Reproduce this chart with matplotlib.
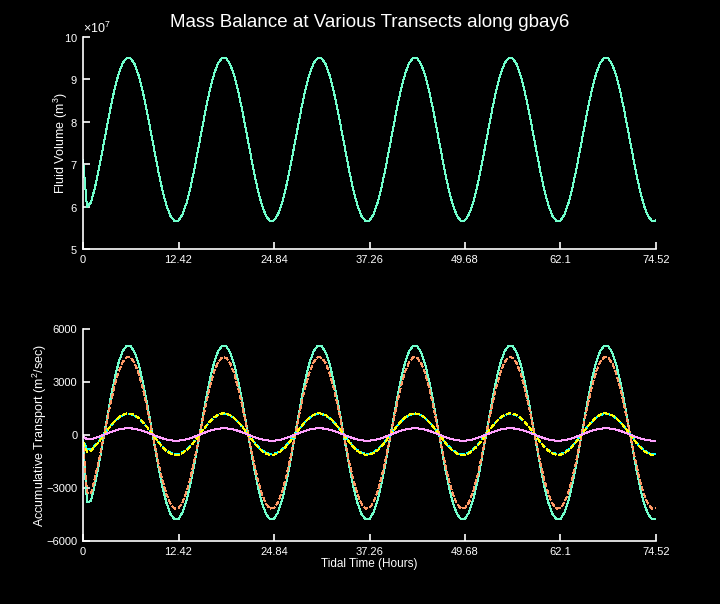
import numpy as np
import matplotlib
matplotlib.use('Agg')
import matplotlib.pyplot as plt
from matplotlib.ticker import ScalarFormatter

plt.rcParams['font.family'] = ['Liberation Sans', 'DejaVu Sans']
plt.rcParams['mathtext.fontset'] = 'custom'
plt.rcParams['mathtext.rm'] = 'Liberation Sans'

# tidal time, 24 samples per tidal cycle of 12.42 h
hours = np.linspace(0, 74.52, 145)
tick_hours = [0, 12.42, 24.84, 37.26, 49.68, 62.1, 74.52]
tick_names = ['0', '12.42', '24.84', '37.26', '49.68', '62.1', '74.52']

# fluid volume, units of 1e7 m^3
volume = [
    7.100, 5.990, 6.100, 6.448, 6.891, 7.383, 7.888, 8.372, 8.803, 9.150, 9.392, 9.509,
    9.496, 9.353, 9.089, 8.722, 8.279, 7.787, 7.282, 6.798, 6.367, 6.020, 5.778, 5.661,
    5.674, 5.817, 6.081, 6.448, 6.891, 7.383, 7.888, 8.372, 8.803, 9.150, 9.392, 9.509,
    9.496, 9.353, 9.089, 8.722, 8.279, 7.787, 7.282, 6.798, 6.367, 6.020, 5.778, 5.661,
    5.674, 5.817, 6.081, 6.448, 6.891, 7.383, 7.888, 8.372, 8.803, 9.150, 9.392, 9.509,
    9.496, 9.353, 9.089, 8.722, 8.279, 7.787, 7.282, 6.798, 6.367, 6.020, 5.778, 5.661,
    5.674, 5.817, 6.081, 6.448, 6.891, 7.383, 7.888, 8.372, 8.803, 9.150, 9.392, 9.509,
    9.496, 9.353, 9.089, 8.722, 8.279, 7.787, 7.282, 6.798, 6.367, 6.020, 5.778, 5.661,
    5.674, 5.817, 6.081, 6.448, 6.891, 7.383, 7.888, 8.372, 8.803, 9.150, 9.392, 9.509,
    9.496, 9.353, 9.089, 8.722, 8.279, 7.787, 7.282, 6.798, 6.367, 6.020, 5.778, 5.661,
    5.674, 5.817, 6.081, 6.448, 6.891, 7.383, 7.888, 8.372, 8.803, 9.150, 9.392, 9.509,
    9.496, 9.353, 9.089, 8.722, 8.279, 7.787, 7.282, 6.798, 6.367, 6.020, 5.778, 5.661,
    5.674,
]

# accumulative transport at the transects (m^2/sec)
tr_green = [
    -450, -3800, -3750, -2769, -1633, -376, 915, 2154, 3256, 4146, 4762, 5064,
    5030, 4663, 3988, 3051, 1915, 658, -633, -1872, -2974, -3864, -4480, -4782,
    -4748, -4381, -3706, -2769, -1633, -376, 915, 2154, 3256, 4146, 4762, 5064,
    5030, 4663, 3988, 3051, 1915, 658, -633, -1872, -2974, -3864, -4480, -4782,
    -4748, -4381, -3706, -2769, -1633, -376, 915, 2154, 3256, 4146, 4762, 5064,
    5030, 4663, 3988, 3051, 1915, 658, -633, -1872, -2974, -3864, -4480, -4782,
    -4748, -4381, -3706, -2769, -1633, -376, 915, 2154, 3256, 4146, 4762, 5064,
    5030, 4663, 3988, 3051, 1915, 658, -633, -1872, -2974, -3864, -4480, -4782,
    -4748, -4381, -3706, -2769, -1633, -376, 915, 2154, 3256, 4146, 4762, 5064,
    5030, 4663, 3988, 3051, 1915, 658, -633, -1872, -2974, -3864, -4480, -4782,
    -4748, -4381, -3706, -2769, -1633, -376, 915, 2154, 3256, 4146, 4762, 5064,
    5030, 4663, 3988, 3051, 1915, 658, -633, -1872, -2974, -3864, -4480, -4782,
    -4748,
]
tr_salmon = [
    -300, -3250, -3300, -2413, -1425, -330, 794, 1873, 2832, 3607, 4144, 4406,
    4377, 4057, 3469, 2653, 1665, 570, -554, -1633, -2592, -3367, -3904, -4166,
    -4137, -3817, -3229, -2413, -1425, -330, 794, 1873, 2832, 3607, 4144, 4406,
    4377, 4057, 3469, 2653, 1665, 570, -554, -1633, -2592, -3367, -3904, -4166,
    -4137, -3817, -3229, -2413, -1425, -330, 794, 1873, 2832, 3607, 4144, 4406,
    4377, 4057, 3469, 2653, 1665, 570, -554, -1633, -2592, -3367, -3904, -4166,
    -4137, -3817, -3229, -2413, -1425, -330, 794, 1873, 2832, 3607, 4144, 4406,
    4377, 4057, 3469, 2653, 1665, 570, -554, -1633, -2592, -3367, -3904, -4166,
    -4137, -3817, -3229, -2413, -1425, -330, 794, 1873, 2832, 3607, 4144, 4406,
    4377, 4057, 3469, 2653, 1665, 570, -554, -1633, -2592, -3367, -3904, -4166,
    -4137, -3817, -3229, -2413, -1425, -330, 794, 1873, 2832, 3607, 4144, 4406,
    4377, 4057, 3469, 2653, 1665, 570, -554, -1633, -2592, -3367, -3904, -4166,
    -4137,
]
tr_cyan = [
    -300, -820, -800, -610, -349, -59, 238, 524, 777, 982, 1124, 1194,
    1186, 1101, 946, 730, 469, 179, -118, -404, -657, -862, -1004, -1074,
    -1066, -981, -826, -610, -349, -59, 238, 524, 777, 982, 1124, 1194,
    1186, 1101, 946, 730, 469, 179, -118, -404, -657, -862, -1004, -1074,
    -1066, -981, -826, -610, -349, -59, 238, 524, 777, 982, 1124, 1194,
    1186, 1101, 946, 730, 469, 179, -118, -404, -657, -862, -1004, -1074,
    -1066, -981, -826, -610, -349, -59, 238, 524, 777, 982, 1124, 1194,
    1186, 1101, 946, 730, 469, 179, -118, -404, -657, -862, -1004, -1074,
    -1066, -981, -826, -610, -349, -59, 238, 524, 777, 982, 1124, 1194,
    1186, 1101, 946, 730, 469, 179, -118, -404, -657, -862, -1004, -1074,
    -1066, -981, -826, -610, -349, -59, 238, 524, 777, 982, 1124, 1194,
    1186, 1101, 946, 730, 469, 179, -118, -404, -657, -862, -1004, -1074,
    -1066,
]
tr_yellow = [
    -380, -950, -900, -644, -374, -74, 233, 528, 791, 1003, 1150, 1222,
    1214, 1126, 965, 742, 472, 172, -135, -430, -693, -905, -1052, -1124,
    -1116, -1028, -867, -644, -374, -74, 233, 528, 791, 1003, 1150, 1222,
    1214, 1126, 965, 742, 472, 172, -135, -430, -693, -905, -1052, -1124,
    -1116, -1028, -867, -644, -374, -74, 233, 528, 791, 1003, 1150, 1222,
    1214, 1126, 965, 742, 472, 172, -135, -430, -693, -905, -1052, -1124,
    -1116, -1028, -867, -644, -374, -74, 233, 528, 791, 1003, 1150, 1222,
    1214, 1126, 965, 742, 472, 172, -135, -430, -693, -905, -1052, -1124,
    -1116, -1028, -867, -644, -374, -74, 233, 528, 791, 1003, 1150, 1222,
    1214, 1126, 965, 742, 472, 172, -135, -430, -693, -905, -1052, -1124,
    -1116, -1028, -867, -644, -374, -74, 233, 528, 791, 1003, 1150, 1222,
    1214, 1126, 965, 742, 472, 172, -135, -430, -693, -905, -1052, -1124,
    -1116,
]
tr_pink = [
    -100, -230, -230, -177, -97, -8, 84, 172, 250, 313, 357, 378,
    376, 350, 302, 235, 155, 66, -26, -114, -192, -255, -299, -320,
    -318, -292, -244, -177, -97, -8, 84, 172, 250, 313, 357, 378,
    376, 350, 302, 235, 155, 66, -26, -114, -192, -255, -299, -320,
    -318, -292, -244, -177, -97, -8, 84, 172, 250, 313, 357, 378,
    376, 350, 302, 235, 155, 66, -26, -114, -192, -255, -299, -320,
    -318, -292, -244, -177, -97, -8, 84, 172, 250, 313, 357, 378,
    376, 350, 302, 235, 155, 66, -26, -114, -192, -255, -299, -320,
    -318, -292, -244, -177, -97, -8, 84, 172, 250, 313, 357, 378,
    376, 350, 302, 235, 155, 66, -26, -114, -192, -255, -299, -320,
    -318, -292, -244, -177, -97, -8, 84, 172, 250, 313, 357, 378,
    376, 350, 302, 235, 155, 66, -26, -114, -192, -255, -299, -320,
    -318,
]

fig = plt.figure(figsize=(7.2, 6.04), dpi=100, facecolor='black')
ax1 = fig.add_axes([0.1153, 0.5877, 0.7958, 0.351])
ax2 = fig.add_axes([0.1153, 0.1043, 0.7958, 0.351])

LW = 0.72  # one pixel at 100 dpi
DASH = (0, (5, 2.5))


def style(ax):
    ax.set_facecolor('black')
    for s in ['top', 'right']:
        ax.spines[s].set_visible(False)
    for s in ['left', 'bottom']:
        ax.spines[s].set_color('white')
        ax.spines[s].set_linewidth(1.2)
    ax.tick_params(colors='white', direction='in', length=5, width=1.2, labelsize=8, pad=4)
    ax.set_xlim(0, 74.52)
    ax.set_xticks(tick_hours)
    ax.set_xticklabels(tick_names)


# top: fluid volume
style(ax1)
ax1.plot(hours, np.array(volume) * 1e7, color='#70FFCC', lw=LW, antialiased=False)
ax1.set_ylim(5e7, 10e7)
ax1.set_yticks([5e7, 6e7, 7e7, 8e7, 9e7, 10e7])
fmt = ScalarFormatter(useMathText=True)
fmt.set_powerlimits((7, 7))
ax1.yaxis.set_major_formatter(fmt)
ax1.yaxis.get_offset_text().set_color('white')
ax1.yaxis.get_offset_text().set_fontsize(9)
ax1.set_ylabel('Fluid Volume (m$^3$)', color='white', fontsize=9, labelpad=-4.5)
ax1.set_title('Mass Balance at Various Transects along gbay6', color='white', fontsize=13.5, pad=7)

# bottom: accumulative transport
style(ax2)
ax2.plot(hours, tr_green, color='#70FFCC', lw=LW, antialiased=False)
ax2.plot(hours, tr_salmon, color='#FF9966', lw=LW, ls=DASH, antialiased=False)
ax2.plot(hours, tr_cyan, color='#00FFFF', lw=LW, ls=(3.5, (5, 2.5)), antialiased=False)
ax2.plot(hours, tr_yellow, color='#FFFF00', lw=LW, ls=DASH, antialiased=False)
ax2.plot(hours, tr_pink, color='#FFA0FF', lw=LW, antialiased=False)
ax2.set_ylim(-6000, 6000)
ax2.set_yticks([-6000, -3000, 0, 3000, 6000])
ax2.set_ylabel('Accumulative Transport (m$^2$/sec)', color='white', fontsize=9, labelpad=-2)
ax2.set_xlabel('Tidal Time (Hours)', color='white', fontsize=8.5, labelpad=1)

fig.savefig('out.png', dpi=100, facecolor='black')
